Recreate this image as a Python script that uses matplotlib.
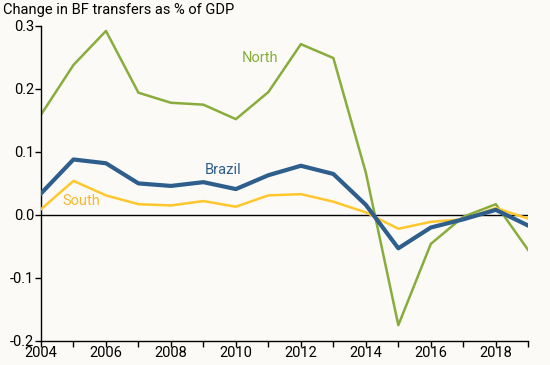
import matplotlib
matplotlib.use("Agg")
import matplotlib.pyplot as plt
import numpy as np

plt.rcParams['font.family'] = ['Roboto', 'DejaVu Sans']

years = list(range(2004, 2020))
north = [0.159, 0.238, 0.292, 0.194, 0.178, 0.175, 0.152, 0.195, 0.271, 0.249,
         0.067, -0.175, -0.046, -0.003, 0.017, -0.056]
brazil = [0.034, 0.088, 0.082, 0.050, 0.046, 0.052, 0.041, 0.063, 0.078, 0.065,
          0.016, -0.053, -0.020, -0.007, 0.008, -0.017]
south = [0.009, 0.054, 0.031, 0.017, 0.015, 0.022, 0.013, 0.031, 0.033, 0.021,
         0.004, -0.022, -0.011, -0.007, 0.011, -0.006]
yticks = [-0.2, -0.1, 0.0, 0.1, 0.2, 0.3]
xticks = list(range(2004, 2020, 2))

bg = '#FBFAF6'
c_north = '#88AD3D'
c_brazil = '#2D5E8C'
c_south = '#FFC72C'

fig = plt.figure(figsize=(5.5, 3.65), dpi=100, facecolor=bg)
ax = fig.add_axes([0.0745, 0.066, 0.886, 0.863], facecolor=bg)

ax.axhline(0, color='black', lw=1.0, zorder=1)
ax.plot(years, north, color=c_north, lw=1.8, zorder=2)
ax.plot(years, south, color=c_south, lw=1.8, zorder=3)
ax.plot(years, brazil, color=c_brazil, lw=3.0, zorder=4)

ax.set_xlim(2004, 2019)
ax.set_ylim(-0.2, 0.3)
ax.set_yticks(yticks)
ax.set_yticklabels([f"{v:.1f}" for v in yticks])
ax.set_xticks(xticks)
ax.set_xticks(range(2005, 2020, 2), minor=True)
for s in ['top', 'right']:
    ax.spines[s].set_visible(False)
for s in ['left', 'bottom']:
    ax.spines[s].set_linewidth(1.0)
ax.tick_params(axis='both', which='both', direction='out', length=4, width=1,
               labelsize=10.5, colors='black', pad=1)
ax.tick_params(axis='x', pad=0)

ax.text(2010.17, 0.249, 'North', color=c_north, fontsize=10.5, ha='left', va='center')
ax.text(2009.05, 0.0705, 'Brazil', color=c_brazil, fontsize=10.5, ha='left', va='center')
ax.text(2004.65, 0.022, 'South', color='#F4B92F', fontsize=10.5, ha='left', va='center')

fig.text(0.005, 0.972, 'Change in BF transfers as % of GDP', fontsize=10.5,
         ha='left', va='center', color='black')

fig.savefig('out.png', dpi=100, facecolor=bg)
